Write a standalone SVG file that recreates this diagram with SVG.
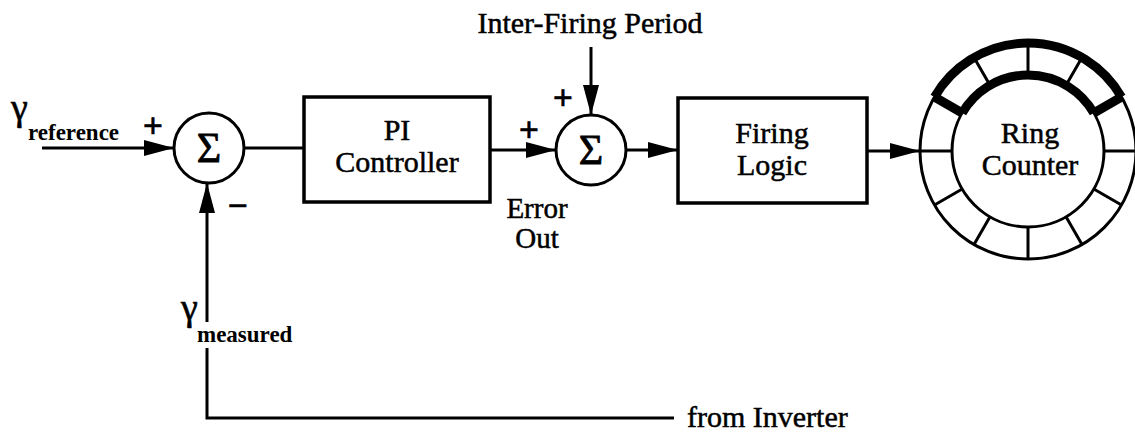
<svg xmlns="http://www.w3.org/2000/svg" width="1135" height="437" viewBox="0 0 1135 437">
  <style>
    .ln { fill: none; stroke: #000; stroke-width: 3; }
    .hv { fill: none; stroke: #000; stroke-width: 9; }
    .box { fill: #fff; stroke: #000; stroke-width: 3.5; }
    .t { font-family: "Liberation Serif", "Times New Roman", serif; font-size: 30px; fill: #000; stroke: #000; stroke-width: 0.5; }
    .g { font-family: "Liberation Serif", "Times New Roman", serif; font-size: 38px; fill: #000; stroke: #000; stroke-width: 0.6; }
    .sub { font-family: "Liberation Serif", "Times New Roman", serif; font-size: 23px; font-weight: bold; fill: #000; }
    .sg { font-family: "Liberation Serif", "Times New Roman", serif; font-size: 42px; fill: #000; text-anchor: middle; stroke: #000; stroke-width: 0.8; }
    .pm { font-family: "Liberation Sans", Arial, sans-serif; font-size: 34px; fill: #000; text-anchor: middle; stroke: #000; stroke-width: 0.6; }
    .c { text-anchor: middle; }
  </style>
  <defs>
    <marker id="arr" markerUnits="userSpaceOnUse" markerWidth="30" markerHeight="16" refX="30" refY="8" orient="auto">
      <path d="M0,0 L30,8 L0,16 Z" fill="#000"/>
    </marker>
  </defs>
  <rect width="1135" height="437" fill="#fff"/>

  <g id="connectors">
    <path class="ln" d="M42,148 L174,148" marker-end="url(#arr)"/>
    <path class="ln" d="M244,148 L304,148"/>
    <path class="ln" d="M490,150 L556,150" marker-end="url(#arr)"/>
    <path class="ln" d="M591,47 L591,115" marker-end="url(#arr)"/>
    <path class="ln" d="M626,150 L678,150" marker-end="url(#arr)"/>
    <path class="ln" d="M867,151 L920,151" marker-end="url(#arr)"/>
    <path class="ln" d="M674,418 L207,418 L207,348"/>
    <path class="ln" d="M207,322 L207,183" marker-end="url(#arr)"/>
  </g>

  <g id="input-reference">
    <text class="g" x="11" y="120">γ</text>
    <text class="sub" x="28" y="140">reference</text>
  </g>

  <g id="sum1">
    <circle class="ln" cx="209" cy="148" r="35" fill="#fff"/>
    <text class="sg" x="209" y="162">Σ</text>
    <text class="pm" x="153" y="137">+</text>
    <text class="pm" x="238" y="217">−</text>
  </g>

  <g id="measured">
    <text class="g" x="181" y="320">γ</text>
    <text class="sub" x="197" y="342">measured</text>
  </g>

  <g id="from-inverter">
    <text class="t" x="687" y="427">from Inverter</text>
  </g>

  <g id="pi-controller">
    <rect class="box" x="304" y="97" width="186" height="105"/>
    <text class="t c" x="397" y="140">PI</text>
    <text class="t c" x="397" y="172">Controller</text>
  </g>

  <g id="error-out">
    <text class="t c" x="537" y="218" style="font-size:29px">Error</text>
    <text class="t c" x="537" y="248" style="font-size:29px">Out</text>
  </g>

  <g id="inter-firing">
    <text class="t c" x="590" y="33">Inter-Firing Period</text>
  </g>

  <g id="sum2">
    <circle class="ln" cx="591" cy="150" r="35" fill="#fff"/>
    <text class="sg" x="591" y="164">Σ</text>
    <text class="pm" x="529" y="141">+</text>
    <text class="pm" x="563" y="109">+</text>
  </g>

  <g id="firing-logic">
    <rect class="box" x="678" y="98" width="189" height="105"/>
    <text class="t c" x="772" y="143">Firing</text>
    <text class="t c" x="772" y="175">Logic</text>
  </g>

  <g id="ring-counter">
    <circle class="ln" cx="1028" cy="151" r="108"/>
    <circle class="ln" cx="1028" cy="151" r="76"/>
    <path class="ln" d="M1104,151 L1140,151 M1093.8,189 L1121.5,205 M1066,216.8 L1082,244.5 M1028,227 L1028,259 M990,216.8 L974,244.5 M962.2,189 L934.5,205 M952,151 L920,151 M990,85.2 L974,57.5 M1028,75 L1028,43 M1066,85.2 L1082,57.5"/>
    <path class="hv" d="M934.5,97 A108,108 0 0 1 1121.5,97 M962.2,113 A76,76 0 0 1 1093.8,113 M962.2,113 L934.5,97 M1093.8,113 L1121.5,97"/>
    <text class="t c" x="1030" y="143">Ring</text>
    <text class="t c" x="1030" y="175">Counter</text>
  </g>
</svg>
